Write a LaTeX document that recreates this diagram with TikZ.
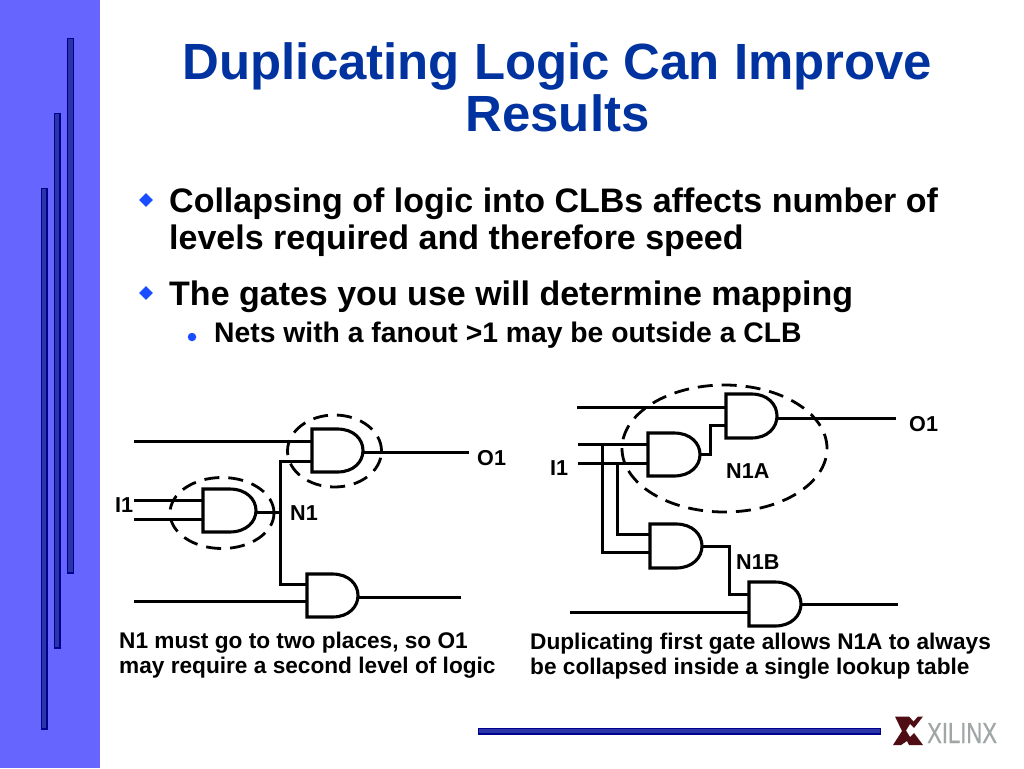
\documentclass[tikz,border=0pt]{standalone}
\usepackage{fontspec}
\setmainfont{Liberation Sans}
\usetikzlibrary{shapes.geometric}
\definecolor{sidec}{HTML}{6666FF}
\definecolor{barc}{HTML}{2A35A8}
\definecolor{barl}{HTML}{00008F}
\definecolor{titlec}{HTML}{0033A0}
\definecolor{bulc}{HTML}{1A4DFF}
\definecolor{logoc}{HTML}{4F0C12}
\definecolor{logot}{HTML}{A0A6A6}
\tikzset{
  wire/.style={line width=3pt,line join=miter},
  gateshape/.style={line width=3.1pt,line join=miter},
  halo/.style={draw,ellipse,dashed,dash pattern=on 15pt off 9pt,line width=2.8pt,inner sep=0pt},
  sidebar/.style={fill=barc,draw=barl,line width=1.3pt},
  ttl/.style={font=\bfseries\fontsize{50.9}{52}\selectfont,text=titlec,anchor=base,inner sep=0pt},
  lone/.style={font=\bfseries\fontsize{34}{36}\selectfont,anchor=base west,inner sep=0pt},
  ltwo/.style={font=\bfseries\fontsize{28.3}{30}\selectfont,anchor=base west,inner sep=0pt},
  lab/.style={font=\bfseries\fontsize{21.6}{24}\selectfont,anchor=base west,inner sep=0pt},
  captxt/.style={font=\bfseries\fontsize{22.65}{24}\selectfont,anchor=base west,inner sep=0pt},
  bul/.style={fill=bulc,draw=none,diamond,minimum width=14pt,minimum height=14pt,inner sep=0pt},
  dotb/.style={fill=bulc,draw=none,circle,minimum size=8.5pt,inner sep=0pt}
}
% \gatebox{name}{left}{top}{right}{bottom}{input y 1}{input y 2}{output y}
\newcommand{\gatebox}[8]{%
  \draw[gateshape] (#2,#3) -- ({#2+0.5*(#4-#2)},#3)
    .. controls ({#2+0.82*(#4-#2)},#3) and (#4,{#3+0.24*(#5-#3)}) .. (#4,{0.5*(#3+#5)})
    .. controls (#4,{#5-0.24*(#5-#3)}) and ({#2+0.82*(#4-#2)},#5) .. ({#2+0.5*(#4-#2)},#5)
    -- (#2,#5) -- cycle;
  \coordinate (#1in1) at (#2,#6);
  \coordinate (#1in2) at (#2,#7);
  \coordinate (#1out) at (#4,#8);
}
\begin{document}
\begin{tikzpicture}[x=1pt,y=-1pt]
\useasboundingbox (0,0) rectangle (1024,768);
\fill[white] (0,0) rectangle (1024,768);
\fill[sidec] (0,0) rectangle (99.5,768);
\draw[sidebar] (67.5,38.5) rectangle (73.5,573);
\draw[sidebar] (54.5,113.5) rectangle (60,648);
\draw[sidebar] (41.5,188.5) rectangle (47,729);
\draw[sidebar] (478.5,728.5) rectangle (880.5,734);

\node[ttl] (t1) at (557.5,79) {Duplicating Logic Can Improve};
\node[ttl] (t2) at (557.5,131) {Results};

\node[bul] (b1) at (146,200) {};
\node[lone] (l1) at (169,212) {Collapsing of logic into CLBs affects number of};
\node[lone] (l2) at (169,249) {levels required and therefore speed};
\node[bul] (b2) at (146,293) {};
\node[lone] (l3) at (169,305.5) {The gates you use will determine mapping};
\node[dotb] (b3) at (192,337) {};
\node[ltwo] (l4) at (214,342) {Nets with a fanout >1 may be outside a CLB};

% left circuit
\gatebox{gu}{312}{429}{363}{472}{441}{461}{452}
\gatebox{gl}{203}{489}{256}{532}{500}{519}{512}
\gatebox{gb}{307}{574}{358}{617}{584}{601}{597}
\coordinate (lA) at (134,441);
\coordinate (lB) at (134,500);
\coordinate (lC) at (134,519);
\coordinate (lD) at (134,601);
\coordinate (lO) at (469,452);
\coordinate (lP) at (461,597);
\coordinate (lN) at (280,512);
\draw[wire] (lA) -- (guin1);
\draw[wire] (lB) -- (glin1);
\draw[wire] (lC) -- (glin2);
\draw[wire] (lD) -- (gbin2);
\draw[wire] (glout) -- (lN);
\draw[wire] (guin2) -| (lN) |- (gbin1);
\draw[wire] (guout) -- (lO);
\draw[wire] (gbout) -- (lP);
\node[halo,minimum width=94pt,minimum height=72pt] (hu) at (334.5,451) {};
\node[halo,minimum width=104pt,minimum height=71pt] (hl) at (222,513) {};
\node[lab] (i1l) at (115,512) {I1};
\node[lab] (n1) at (290,520) {N1};
\node[lab] (o1l) at (477,465) {O1};

% right circuit
\gatebox{ga}{726}{394}{777}{438}{407}{425}{418}
\gatebox{gc}{648}{433}{700}{476}{444}{463}{454}
\gatebox{gd}{650}{524}{702}{568}{534}{552}{546}
\gatebox{ge}{749}{582}{801}{626}{594}{612}{604}
\coordinate (rA) at (577,407);
\coordinate (rB) at (578,444);
\coordinate (rC) at (578,463);
\coordinate (rD) at (570,612);
\coordinate (rO) at (896,418);
\coordinate (rP) at (898,604);
\coordinate (rV) at (602,444);
\coordinate (rW) at (617,463);
\draw[wire] (rA) -- (gain1);
\draw[wire] (rB) -- (gcin1);
\draw[wire] (rC) -- (gcin2);
\draw[wire] (rD) -- (gein2);
\draw[wire] (rV) |- (gdin2);
\draw[wire] (rW) |- (gdin1);
\draw[wire] (gcout) -- ++(10,0) |- (gain2);
\draw[wire] (gdout) -- ++(27,0) |- (gein1);
\draw[wire] (gaout) -- (rO);
\draw[wire] (geout) -- (rP);
\node[halo,minimum width=205pt,minimum height=127pt] (hr) at (724.5,448.5) {};
\node[lab] (i1r) at (550,475) {I1};
\node[lab] (n1a) at (726,478) {N1A};
\node[lab] (n1b) at (736,569) {N1B};
\node[lab] (o1r) at (909,431) {O1};

% captions
\node[captxt] (c1) at (119,648) {N1 must go to two places, so O1};
\node[captxt] (c2) at (119,673) {may require a second level of logic};
\node[captxt] (c3) at (530,649) {Duplicating first gate allows N1A to always};
\node[captxt] (c4) at (530,674) {be collapsed inside a single lookup table};

% logo
\fill[logoc] (895,716.5) -- (909,716.5) -- (913.5,721.5) -- (918,716.5) -- (923,716.5) -- (914,728) -- (910,724) -- (906,730.5) -- (910,737) -- (914,733) -- (923,745) -- (909,745) -- (907,741) -- (901,745) -- (893,745) -- (902,731) -- cycle;
\node[font=\fontsize{29}{30}\selectfont\addfontfeature{FakeBold=0.6},text=logot,anchor=base west,inner sep=0pt,xscale=0.76] (logo) at (927,743) {XILINX};
\end{tikzpicture}
\end{document}
